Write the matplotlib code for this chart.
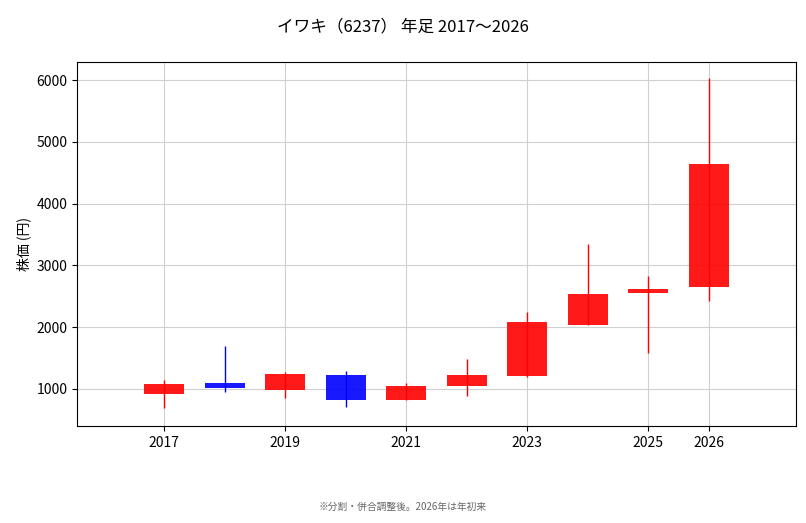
import matplotlib
matplotlib.use("Agg")
import matplotlib.pyplot as plt
from matplotlib.patches import Rectangle

plt.rcParams['font.family'] = ['Noto Sans CJK JP', 'DejaVu Sans']

years = [2017, 2018, 2019, 2020, 2021, 2022, 2023, 2024, 2025, 2026]
opens = [920, 1090, 985, 1225, 820, 1050, 1210, 2035, 2555, 2650]
closes = [1080, 1020, 1240, 820, 1050, 1225, 2085, 2540, 2620, 4640]
highs = [1150, 1700, 1270, 1290, 1100, 1485, 2245, 3345, 2830, 6030]
lows = [690, 950, 850, 710, 820, 890, 1195, 2035, 1580, 2420]
xticks = [2017, 2019, 2021, 2023, 2025, 2026]

fig = plt.figure(figsize=(8.06, 5.23), dpi=100)
ax = fig.add_axes([0.0955, 0.1855, 0.892, 0.6955])
w = 0.66
for x, o, c, h, l in zip(years, opens, closes, highs, lows):
    col = 'red' if c >= o else 'blue'
    ax.vlines(x, l, h, color=col, linewidth=1, zorder=2)
    ax.add_patch(Rectangle((x - w / 2, min(o, c)), w, abs(c - o), facecolor=col,
                           edgecolor='none', alpha=0.9, zorder=3))
ax.set_xlim(2015.56, 2027.44)
ax.set_ylim(401, 6291)
ax.set_xticks(xticks)
ax.set_xticklabels([str(t) for t in xticks])
ax.grid(True, color='#d0d0d0', linewidth=0.8, zorder=0)
ax.set_axisbelow(True)
ax.set_ylabel('株価 (円)')
fig.suptitle('イワキ（6237） 年足 2017〜2026', y=0.965, fontsize=12)
fig.text(0.5, 0.025, '※分割・併合調整後。2026年は年初来', ha='center', fontsize=7, color='#666666')
fig.savefig('out.png', dpi=100)
